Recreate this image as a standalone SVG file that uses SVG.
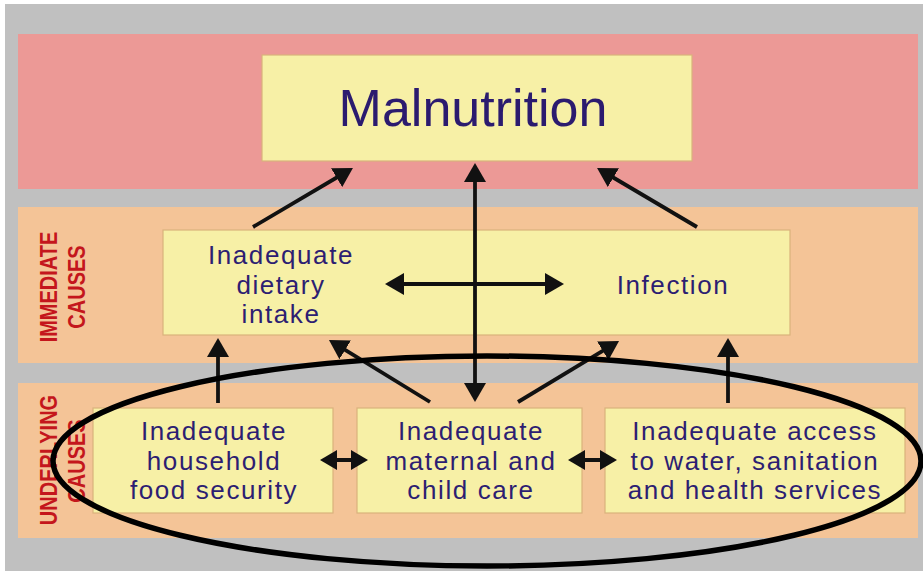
<svg xmlns="http://www.w3.org/2000/svg" width="923" height="573" viewBox="0 0 923 573">
<defs>
<style>
.box{fill:#f7f0a6;stroke:#d9b27c;stroke-width:1.2}
.t{font-family:"Liberation Sans",Arial,sans-serif;font-size:26px;letter-spacing:1.6px;fill:#2d1e72;text-anchor:middle}
.side{font-family:"Liberation Sans",Arial,sans-serif;font-size:20px;font-weight:bold;fill:#c4161c;text-anchor:middle}
.ar{stroke:#111;stroke-width:3.8;fill:none}
</style>
<marker id="ah" markerUnits="userSpaceOnUse" markerWidth="20" markerHeight="22" refX="13" refY="11" orient="auto-start-reverse" viewBox="0 0 20 22">
<path d="M0,0 L19,11 L0,22 z" fill="#111"/>
</marker>
<marker id="sh" markerUnits="userSpaceOnUse" markerWidth="18" markerHeight="20" refX="11" refY="10" orient="auto-start-reverse" viewBox="0 0 18 20">
<path d="M0,0 L17,10 L0,20 z" fill="#111"/>
</marker>
</defs>
<rect x="0" y="0" width="923" height="573" fill="#ffffff"/>
<rect x="5" y="4" width="918" height="567" fill="#c0c0c0"/>
<rect x="18" y="34" width="900" height="155" fill="#ec9996"/>
<rect x="18" y="207" width="900" height="156" fill="#f4c497"/>
<rect x="18" y="383" width="900" height="155" fill="#f4c497"/>

<g id="label-immediate">
<text class="side" transform="translate(57,287) rotate(-90) scale(1,1.2)">IMMEDIATE</text>
<text class="side" transform="translate(85,287) rotate(-90) scale(1,1.2)">CAUSES</text>
</g>
<g id="label-underlying">
<text class="side" transform="translate(57,460) rotate(-90) scale(1,1.2)">UNDERLYING</text>
<text class="side" transform="translate(85,461) rotate(-90) scale(1,1.2)">CAUSES</text>
</g>

<g id="malnutrition">
<rect class="box" x="262" y="55" width="430" height="106"/>
<text x="473" y="126" transform="translate(473,0) scale(1,1) translate(-473,0)" style="font-family:'Liberation Sans',Arial,sans-serif;font-size:52px;fill:#2b1b6f;text-anchor:middle">Malnutrition</text>
</g>

<g id="immediate">
<rect class="box" x="163" y="230" width="627" height="105"/>
</g>
<g id="dietary">
<text class="t" x="281" y="264">Inadequate</text>
<text class="t" x="281" y="294">dietary</text>
<text class="t" x="281" y="323">intake</text>
</g>
<g id="infection">
<text class="t" x="673" y="294">Infection</text>
</g>

<g id="food">
<rect class="box" x="93" y="408" width="240" height="105"/>
<text class="t" x="214" y="440">Inadequate</text>
<text class="t" x="214" y="470">household</text>
<text class="t" x="214" y="499">food security</text>
</g>
<g id="care">
<rect class="box" x="357" y="408" width="225" height="105"/>
<text class="t" x="471" y="440">Inadequate</text>
<text class="t" x="471" y="470">maternal and</text>
<text class="t" x="471" y="499">child care</text>
</g>
<g id="water">
<rect class="box" x="605" y="408" width="300" height="105"/>
<text class="t" x="755" y="440">Inadequate access</text>
<text class="t" x="755" y="470">to water, sanitation</text>
<text class="t" x="755" y="499">and health services</text>
</g>

<g id="connectors">
<line class="ar" x1="253" y1="227" x2="347.8" y2="171" marker-end="url(#ah)"/>
<line class="ar" x1="697" y1="227" x2="602.2" y2="171" marker-end="url(#ah)"/>
<line class="ar" x1="475" y1="169" x2="475" y2="396" marker-start="url(#ah)" marker-end="url(#ah)"/>
<line class="ar" x1="391" y1="284" x2="558" y2="284" marker-start="url(#ah)" marker-end="url(#ah)"/>
<line class="ar" x1="218" y1="403" x2="218" y2="344" marker-end="url(#ah)"/>
<line class="ar" x1="430" y1="402" x2="334.1" y2="343.1" marker-end="url(#ah)"/>
<line class="ar" x1="518" y1="402" x2="613.9" y2="344.1" marker-end="url(#ah)"/>
<line class="ar" x1="728" y1="403" x2="728" y2="344" marker-end="url(#ah)"/>
<line class="ar" x1="326" y1="460" x2="362" y2="460" marker-start="url(#sh)" marker-end="url(#sh)"/>
<line class="ar" x1="574" y1="460" x2="611" y2="460" marker-start="url(#sh)" marker-end="url(#sh)"/>
</g>

<ellipse cx="487" cy="461" rx="434" ry="105" fill="none" stroke="#000" stroke-width="5.5"/>
</svg>
